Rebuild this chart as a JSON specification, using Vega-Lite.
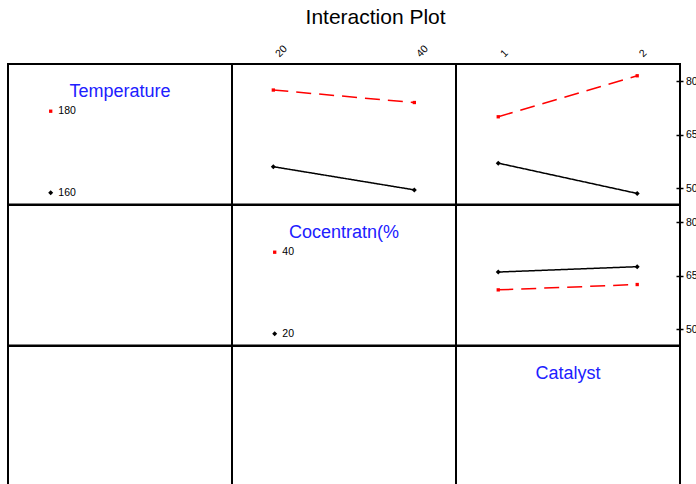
{
  "$schema": "https://vega.github.io/schema/vega-lite/v6.json",
  "padding": {"left": 7, "top": 7, "right": 0, "bottom": 0},
  "title": {"text": "Interaction Plot", "font": "Liberation Sans", "fontSize": 21, "fontWeight": "normal", "color": "#000000", "anchor": "middle", "dx": 23, "offset": 14},
  "datasets": {
    "means": [
      {"panel": "Temp_Conc", "trace": "160", "x": 20, "mean": 56},
      {"panel": "Temp_Conc", "trace": "160", "x": 40, "mean": 49.5},
      {"panel": "Temp_Conc", "trace": "180", "x": 20, "mean": 77.5},
      {"panel": "Temp_Conc", "trace": "180", "x": 40, "mean": 74},
      {"panel": "Temp_Cat", "trace": "160", "x": 1, "mean": 57},
      {"panel": "Temp_Cat", "trace": "160", "x": 2, "mean": 48.5},
      {"panel": "Temp_Cat", "trace": "180", "x": 1, "mean": 70},
      {"panel": "Temp_Cat", "trace": "180", "x": 2, "mean": 81.5},
      {"panel": "Conc_Cat", "trace": "20", "x": 1, "mean": 66},
      {"panel": "Conc_Cat", "trace": "20", "x": 2, "mean": 67.5},
      {"panel": "Conc_Cat", "trace": "40", "x": 1, "mean": 61},
      {"panel": "Conc_Cat", "trace": "40", "x": 2, "mean": 62.5}
    ],
    "legend": [
      {"factor": "Temperature", "level": "180", "rank": "hi"},
      {"factor": "Temperature", "level": "160", "rank": "lo"},
      {"factor": "Cocentratn(%", "level": "40", "rank": "hi"},
      {"factor": "Cocentratn(%", "level": "20", "rank": "lo"}
    ]
  },
  "columns": 3,
  "spacing": 0,
  "bounds": "flush",
  "resolve": {
    "scale": {"x": "independent", "y": "independent", "color": "independent", "shape": "independent", "size": "independent", "strokeDash": "independent"},
    "axis": {"x": "independent", "y": "independent"}
  },
  "concat": [
    {
      "width": 224, "height": 140.5,
      "layer": [
        {
          "data": {"values": [{"factor": "Temperature"}]},
          "mark": {"type": "text", "fontSize": 18, "color": "#2020ff", "align": "center", "baseline": "alphabetic", "dy": -37},
          "encoding": {"text": {"field": "factor"}}
        },
        {
          "data": {"name": "legend"},
          "transform": [{"filter": "datum.factor == 'Temperature'"}],
          "encoding": {
            "y": {"field": "rank", "type": "ordinal", "scale": {"type": "point", "domain": ["hi", "lo"], "padding": 0.362, "align": 0.8}, "axis": null}
          },
          "layer": [
            {
              "mark": {"type": "point", "filled": true, "opacity": 1, "xOffset": -69.3},
              "encoding": {
                "color": {"field": "rank", "type": "nominal", "scale": {"domain": ["lo", "hi"], "range": ["#000000", "#ff0000"]}, "legend": null},
                "shape": {"field": "rank", "type": "nominal", "scale": {"domain": ["lo", "hi"], "range": ["diamond", "square"]}, "legend": null},
                "size": {"field": "rank", "type": "ordinal", "scale": {"domain": ["lo", "hi"], "range": [25, 11]}, "legend": null}
              }
            },
            {
              "mark": {"type": "text", "fontSize": 10.5, "color": "#000000", "align": "left", "baseline": "middle", "dx": -61.7},
              "encoding": {"text": {"field": "level"}}
            }
          ]
        }
      ]
    },
    {
      "width": 224, "height": 140.5,
      "data": {"name": "means"},
      "transform": [{"filter": "datum.panel == 'Temp_Conc'"}],
      "encoding": {
        "x": {"field": "x", "type": "quantitative", "scale": {"domain": [14.14, 45.91], "nice": false, "zero": false},
              "axis": {"orient": "top", "values": [20, 40], "title": null, "ticks": false, "domain": false, "grid": false, "labelAngle": -45, "labelAlign": "left", "labelBaseline": "top", "labelPadding": 12.5, "labelFontSize": 10.5, "labelColor": "#000000", "labelFont": "Liberation Sans", "labelOverlap": false, "labelFlush": false, "labelBound": false}},
        "y": {"field": "mean", "type": "quantitative", "scale": {"domain": [45.4, 84.8], "nice": false, "zero": false}, "axis": null},
        "color": {"field": "trace", "type": "nominal", "scale": {"domain": ["160", "180"], "range": ["#000000", "#ff0000"]}, "legend": null}
      },
      "layer": [
        {
          "mark": {"type": "line", "strokeWidth": 1.5},
          "encoding": {"strokeDash": {"field": "trace", "type": "nominal", "scale": {"domain": ["160", "180"], "range": [[1, 0], [15, 8]]}, "legend": null}}
        },
        {
          "mark": {"type": "point", "filled": true, "opacity": 1},
          "encoding": {
            "shape": {"field": "trace", "type": "nominal", "scale": {"domain": ["160", "180"], "range": ["diamond", "square"]}, "legend": null},
            "size": {"field": "trace", "type": "ordinal", "scale": {"domain": ["160", "180"], "range": [25, 11]}, "legend": null}
          }
        }
      ]
    },
    {
      "width": 224, "height": 140.5,
      "data": {"name": "means"},
      "transform": [{"filter": "datum.panel == 'Temp_Cat'"}],
      "encoding": {
        "x": {"field": "x", "type": "quantitative", "scale": {"domain": [0.696, 2.308], "nice": false, "zero": false},
              "axis": {"orient": "top", "values": [1, 2], "format": "d", "title": null, "ticks": false, "domain": false, "grid": false, "labelAngle": -45, "labelAlign": "left", "labelBaseline": "top", "labelPadding": 12.5, "labelFontSize": 10.5, "labelColor": "#000000", "labelFont": "Liberation Sans", "labelOverlap": false, "labelFlush": false, "labelBound": false}},
        "y": {"field": "mean", "type": "quantitative", "scale": {"domain": [45.4, 84.8], "nice": false, "zero": false},
              "axis": {"orient": "right", "values": [50, 65, 80], "title": null, "domain": false, "grid": false, "ticks": true, "tickSize": 7, "tickWidth": 1.5, "tickColor": "#000000", "offset": -4, "labelPadding": 2.5, "labelFontSize": 10.5, "labelColor": "#000000", "labelFont": "Liberation Sans", "labelOverlap": false, "labelFlush": false, "labelBound": false}},
        "color": {"field": "trace", "type": "nominal", "scale": {"domain": ["160", "180"], "range": ["#000000", "#ff0000"]}, "legend": null}
      },
      "layer": [
        {
          "mark": {"type": "line", "strokeWidth": 1.5},
          "encoding": {"strokeDash": {"field": "trace", "type": "nominal", "scale": {"domain": ["160", "180"], "range": [[1, 0], [15, 8]]}, "legend": null}}
        },
        {
          "mark": {"type": "point", "filled": true, "opacity": 1},
          "encoding": {
            "shape": {"field": "trace", "type": "nominal", "scale": {"domain": ["160", "180"], "range": ["diamond", "square"]}, "legend": null},
            "size": {"field": "trace", "type": "ordinal", "scale": {"domain": ["160", "180"], "range": [25, 11]}, "legend": null}
          }
        }
      ]
    },
    {
      "width": 224, "height": 140.5,
      "data": {"values": [{"t": ""}]},
      "mark": {"type": "text"},
      "encoding": {"y": {"field": "t", "type": "nominal", "axis": null}, "text": {"field": "t"}}
    },
    {
      "width": 224, "height": 140.5,
      "layer": [
        {
          "data": {"values": [{"factor": "Cocentratn(%"}]},
          "mark": {"type": "text", "fontSize": 18, "color": "#2020ff", "align": "center", "baseline": "alphabetic", "dy": -37},
          "encoding": {"text": {"field": "factor"}}
        },
        {
          "data": {"name": "legend"},
          "transform": [{"filter": "datum.factor == 'Cocentratn(%'"}],
          "encoding": {
            "y": {"field": "rank", "type": "ordinal", "scale": {"type": "point", "domain": ["hi", "lo"], "padding": 0.362, "align": 0.8}, "axis": null}
          },
          "layer": [
            {
              "mark": {"type": "point", "filled": true, "opacity": 1, "xOffset": -69.3},
              "encoding": {
                "color": {"field": "rank", "type": "nominal", "scale": {"domain": ["lo", "hi"], "range": ["#000000", "#ff0000"]}, "legend": null},
                "shape": {"field": "rank", "type": "nominal", "scale": {"domain": ["lo", "hi"], "range": ["diamond", "square"]}, "legend": null},
                "size": {"field": "rank", "type": "ordinal", "scale": {"domain": ["lo", "hi"], "range": [25, 11]}, "legend": null}
              }
            },
            {
              "mark": {"type": "text", "fontSize": 10.5, "color": "#000000", "align": "left", "baseline": "middle", "dx": -61.7},
              "encoding": {"text": {"field": "level"}}
            }
          ]
        }
      ]
    },
    {
      "width": 224, "height": 140.5,
      "data": {"name": "means"},
      "transform": [{"filter": "datum.panel == 'Conc_Cat'"}],
      "encoding": {
        "x": {"field": "x", "type": "quantitative", "scale": {"domain": [0.696, 2.308], "nice": false, "zero": false}, "axis": null},
        "y": {"field": "mean", "type": "quantitative", "scale": {"domain": [45.4, 84.8], "nice": false, "zero": false},
              "axis": {"orient": "right", "values": [50, 65, 80], "title": null, "domain": false, "grid": false, "ticks": true, "tickSize": 7, "tickWidth": 1.5, "tickColor": "#000000", "offset": -4, "labelPadding": 2.5, "labelFontSize": 10.5, "labelColor": "#000000", "labelFont": "Liberation Sans", "labelOverlap": false, "labelFlush": false, "labelBound": false}},
        "color": {"field": "trace", "type": "nominal", "scale": {"domain": ["20", "40"], "range": ["#000000", "#ff0000"]}, "legend": null}
      },
      "layer": [
        {
          "mark": {"type": "line", "strokeWidth": 1.5},
          "encoding": {"strokeDash": {"field": "trace", "type": "nominal", "scale": {"domain": ["20", "40"], "range": [[1, 0], [15, 8]]}, "legend": null}}
        },
        {
          "mark": {"type": "point", "filled": true, "opacity": 1},
          "encoding": {
            "shape": {"field": "trace", "type": "nominal", "scale": {"domain": ["20", "40"], "range": ["diamond", "square"]}, "legend": null},
            "size": {"field": "trace", "type": "ordinal", "scale": {"domain": ["20", "40"], "range": [25, 11]}, "legend": null}
          }
        }
      ]
    },
    {
      "width": 224, "height": 140.5,
      "data": {"values": [{"t": ""}]},
      "mark": {"type": "text"},
      "encoding": {"y": {"field": "t", "type": "nominal", "axis": null}, "text": {"field": "t"}}
    },
    {
      "width": 224, "height": 140.5,
      "data": {"values": [{"t": ""}]},
      "mark": {"type": "text"},
      "encoding": {"y": {"field": "t", "type": "nominal", "axis": null}, "text": {"field": "t"}}
    },
    {
      "width": 224, "height": 140.5,
      "data": {"values": [{"factor": "Catalyst"}]},
      "mark": {"type": "text", "fontSize": 18, "color": "#2020ff", "align": "center", "baseline": "alphabetic", "dy": -37},
      "encoding": {"y": {"field": "factor", "type": "nominal", "axis": null}, "text": {"field": "factor"}}
    }
  ],
  "config": {
    "view": {"stroke": "#000000", "strokeWidth": 2},
    "font": "Liberation Sans",
    "text": {"font": "Liberation Sans"},
    "background": "#ffffff"
  }
}
